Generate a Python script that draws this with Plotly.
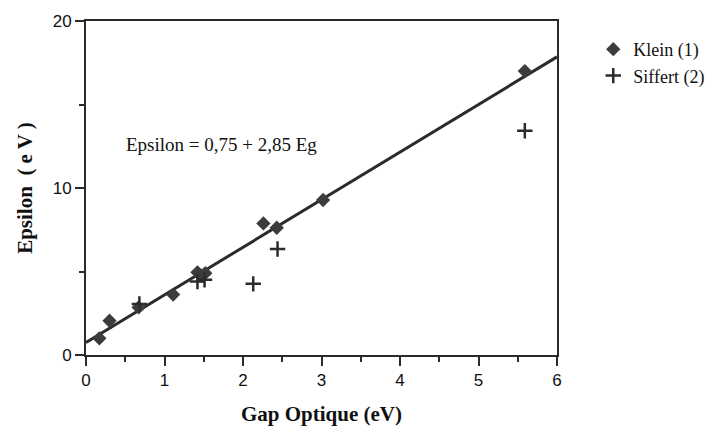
import plotly.graph_objects as go

# Klein (1): measured Epsilon vs optical gap
klein_gap = [0.17, 0.30, 0.67, 1.11, 1.42, 1.47, 1.52, 2.26, 2.43, 3.02, 5.59]
klein_eps = [1.00, 2.05, 2.85, 3.62, 4.95, 4.75, 4.90, 7.88, 7.62, 9.28, 17.0]

# Siffert (2)
siffert_gap = [0.68, 1.42, 1.51, 2.13, 2.44, 5.59]
siffert_eps = [3.05, 4.40, 4.50, 4.26, 6.35, 13.43]

# Linear fit: Epsilon = a + b * Eg
fit_a = 0.75
fit_b = 2.85
fit_x = [0.0, 6.0]
fit_y = [fit_a + fit_b * x for x in fit_x]

ink = "#2b2b2b"
serif = "Liberation Serif, Times New Roman, serif"
sans = "Liberation Sans, Arial, sans-serif"

fig = go.Figure()

fig.add_trace(go.Scatter(
    x=fit_x, y=fit_y, mode="lines",
    line=dict(color=ink, width=3),
    showlegend=False, hoverinfo="skip",
))

fig.add_trace(go.Scatter(
    x=klein_gap, y=klein_eps, mode="markers", name="Klein (1)",
    marker=dict(symbol="diamond", size=11, color="#3c3c3c",
                line=dict(color="#3c3c3c", width=0)),
))

fig.add_trace(go.Scatter(
    x=siffert_gap, y=siffert_eps, mode="markers", name="Siffert (2)",
    marker=dict(symbol="cross-thin", size=11, color=ink,
                line=dict(color=ink, width=2.5)),
))

fig.add_annotation(
    x=0.48, y=12.6, xref="x", yref="y",
    text="Epsilon = 0,75 + 2,85 Eg", showarrow=False,
    xanchor="left", yanchor="middle",
    font=dict(family=serif, size=19, color="#111111"),
)

fig.update_layout(
    width=725, height=437,
    margin=dict(l=86, r=168, t=14, b=82),
    paper_bgcolor="white", plot_bgcolor="white",
    legend=dict(
        x=1.077, y=0.97, xanchor="left", yanchor="top",
        font=dict(family=serif, size=18, color="#111111"),
        bgcolor="rgba(0,0,0,0)", itemwidth=30, tracegroupgap=0,
    ),
    xaxis=dict(
        range=[0, 6], tickvals=[0, 1, 2, 3, 4, 5, 6],
        showgrid=False, zeroline=False,
        showline=True, linecolor=ink, linewidth=2, mirror=True,
        ticks="outside", ticklen=9, tickwidth=2, tickcolor=ink,
        minor=dict(dtick=0.5, ticks="outside", ticklen=5, tickwidth=2, tickcolor=ink),
        tickfont=dict(family=sans, size=17, color="#111111"),
        title=dict(text="<b>Gap Optique (eV)</b>",
                   font=dict(family=serif, size=21, color="#111111"), standoff=17),
    ),
    yaxis=dict(
        range=[0, 20], tickvals=[0, 10, 20],
        showgrid=False, zeroline=False,
        showline=True, linecolor=ink, linewidth=2, mirror=True,
        ticks="outside", ticklen=9, tickwidth=2, tickcolor=ink,
        minor=dict(dtick=5, ticks="outside", ticklen=5, tickwidth=2, tickcolor=ink),
        tickfont=dict(family=sans, size=17, color="#111111"),
        title=dict(text="<b>Epsilon  ( e V )</b>",
                   font=dict(family=serif, size=21, color="#111111"), standoff=14),
    ),
)

fig.write_html("out.html")
